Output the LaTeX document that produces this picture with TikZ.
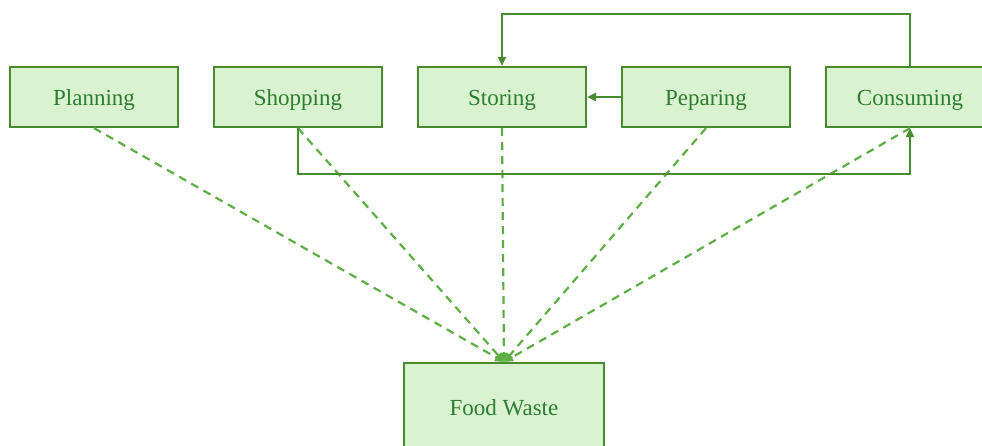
\documentclass[tikz,border=0pt]{standalone}
\usepackage{fontspec}
\setmainfont{Liberation Serif}
\usetikzlibrary{arrows.meta}
\definecolor{boxfill}{HTML}{D9F2D0}
\definecolor{boxline}{HTML}{4A8A30}
\definecolor{boxtext}{HTML}{2E7D32}
\definecolor{dashline}{HTML}{5DAE45}
\tikzset{
  stage/.style={draw=boxline, fill=boxfill, line width=2.2pt, text=boxtext,
    minimum width=168pt, minimum height=60pt, inner sep=0pt,
    text height=19pt, text depth=1.5pt,
    font=\fontsize{23}{26}\selectfont},
  sink/.style={stage, minimum width=200pt, minimum height=90pt,
    text height=15.6pt, text depth=0pt},
  flow/.style={draw=boxline, line width=2.2pt, -{Triangle[length=9pt,width=8pt]}},
  waste/.style={draw=dashline, line width=2.2pt, dash pattern=on 8pt off 6pt,
    -{Triangle[length=9pt,width=8pt]}}
}
\begin{document}
\begin{tikzpicture}[x=1pt,y=-1pt]
  \useasboundingbox (0,0) rectangle (982,445);
  \clip (0,0) rectangle (982,445);
  % process stages
  \node[stage] (plan)    at (94,97)  {Planning};
  \node[stage] (shop)    at (298,97) {Shopping};
  \node[stage] (store)   at (502,97) {Storing};
  \node[stage] (prep)    at (706,97) {Peparing};
  \node[stage] (consume) at (910,97) {Consuming};
  \node[sink] (waste) at (504,408) {Food Waste};
  % routing levels for the loops
  \coordinate (low)  at (0,174);
  \coordinate (high) at (0,14);
  % waste from every stage
  \foreach \s in {plan,shop,store,prep,consume}
    \draw[waste] (\s.south) -- (waste.north);
  % material flow between stages
  \draw[flow] (shop.south) |- (consume.south |- low) -- (consume.south);
  \draw[flow] (consume.north) |- (store.north |- high) -- (store.north);
  \draw[flow] (prep.west) -- (store.east);
\end{tikzpicture}
\end{document}
